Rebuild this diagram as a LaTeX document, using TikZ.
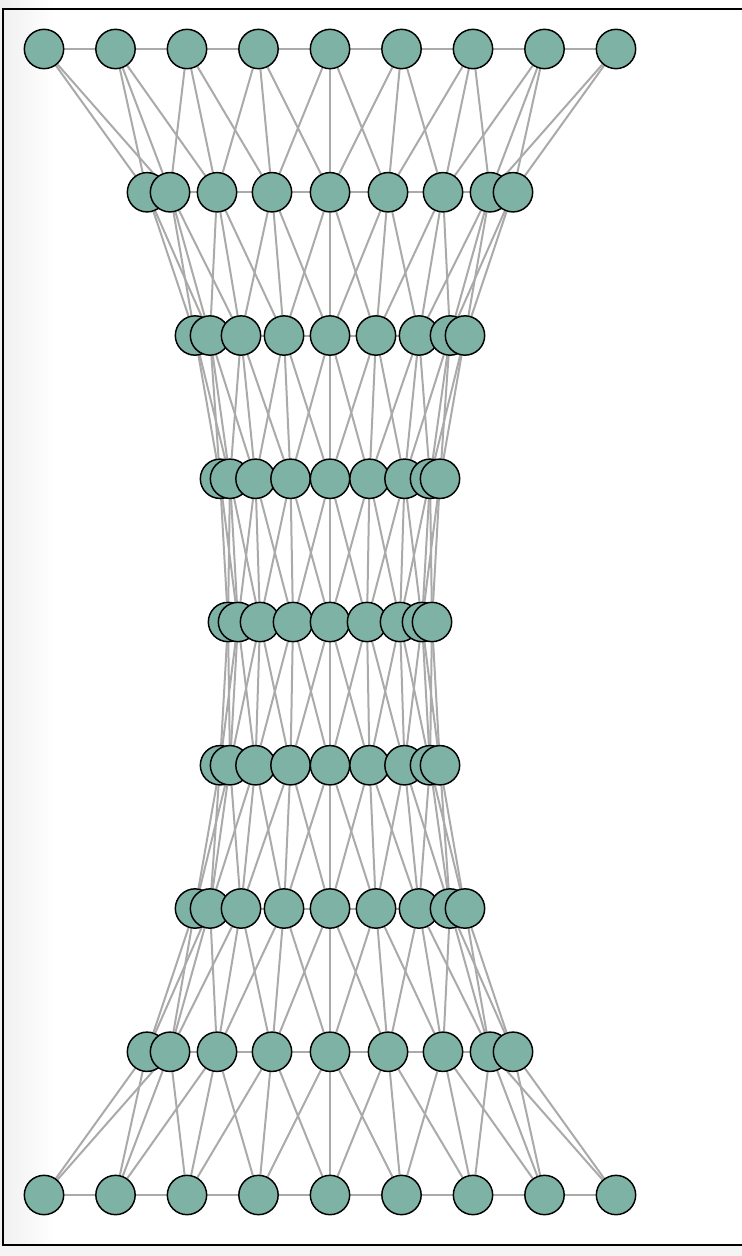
\documentclass[tikz,border=0pt]{standalone}
\usepackage{xcolor}
\usepackage{tikz}
\usetikzlibrary{calc}

\definecolor{vtxgreen}{RGB}{125,178,164}
\definecolor{edgegray}{RGB}{170,170,170}

\pgfdeclarelayer{paper}
\pgfdeclarelayer{wires}
\pgfsetlayers{paper,wires,main}

\begin{document}
\begin{tikzpicture}[
    x=0.75pt, y=-0.75pt,
    vtx/.style={circle, draw=black, line width=1.1pt, fill=vtxgreen,
                minimum size=29.5pt, inner sep=0pt},
    wire/.style={draw=edgegray, line width=1.5pt}]
  \useasboundingbox (0,0) rectangle (742,1256);

  % nodes, one row at a time (left to right, so the right one lies on top)
  \foreach \r/\xs in {
      1/{44,115.5,187,258.5,330,401.5,473,544.5,616},
      2/{147,170,217,272,330,388,443,490,513},
      3/{195,210,241,284,330,376,419,450,465},
      4/{220,230,255.5,290.5,330,369.5,404.5,430,440},
      5/{228,238,260,293,330,367,400,422,432},
      6/{220,230,255.5,290.5,330,369.5,404.5,430,440},
      7/{195,210,241,284,330,376,419,450,465},
      8/{147,170,217,272,330,388,443,490,513},
      9/{44,115.5,187,258.5,330,401.5,473,544.5,616}}{
    \foreach \x [count=\c from 0] in \xs
      \node[vtx] (n-\r-\c) at (\x, {49+143.25*(\r-1)}) {};
  }

  % edges: along each row, and to the three nearest nodes of the next row
  \begin{pgfonlayer}{wires}
    \foreach \r in {1,...,9}
      \foreach \c in {0,...,7}{
        \pgfmathtruncatemacro\nxt{\c+1}
        \draw[wire] (n-\r-\c) -- (n-\r-\nxt);
      }
    \foreach \r in {1,...,8}
      \foreach \c in {0,...,8}
        \foreach \k in {-1,0,1}{
          \pgfmathtruncatemacro\s{\r+1}
          \pgfmathtruncatemacro\e{\c+\k}
          \ifnum\e>-1 \ifnum\e<9
            \draw[wire] (n-\r-\c) -- (n-\s-\e);
          \fi\fi
        }
  \end{pgfonlayer}

  % frame and page
  \begin{pgfonlayer}{paper}
    \fill[white] (0,0) rectangle (742,1256);
    \shade[left color=gray!12, right color=white] (0,0) rectangle (55,1245);
    \fill[gray!9] (0,1245) rectangle (742,1256);
    \draw[line width=1.5pt] (742,9) -| (3,1245) -- (742,1245);
  \end{pgfonlayer}
\end{tikzpicture}
\end{document}
